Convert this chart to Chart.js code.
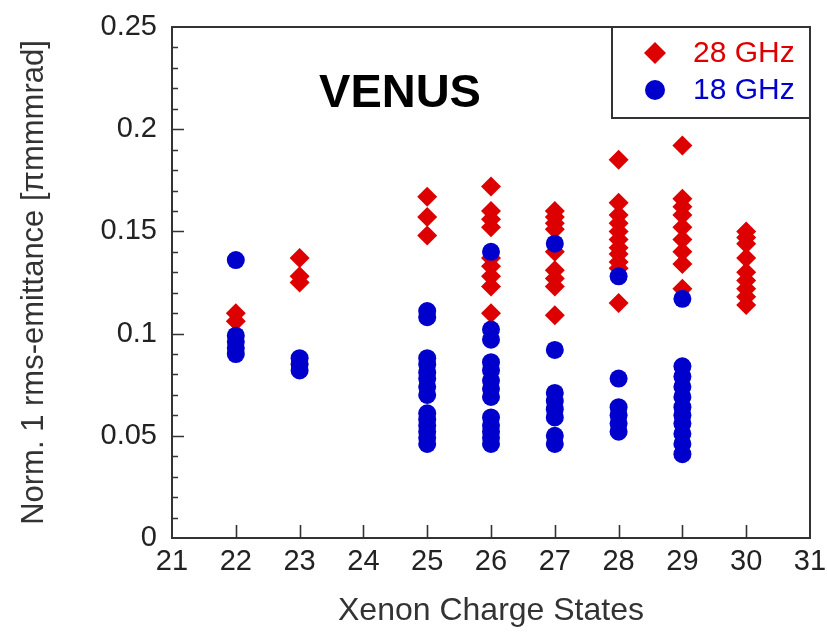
<!DOCTYPE html>
<html lang="en">
<head>
    <meta charset="UTF-8">
    <title>VENUS emittance</title>
    <style>
        html, body { margin: 0; padding: 0; background: #fff; }
        #myChart { display: block; }
    </style>
</head>
<body>

    <canvas id="myChart" width="827" height="634"></canvas>

    <script src="https://cdn.jsdelivr.net/npm/chart.js"></script>

    <script>
        // xenon charge states on the x axis
        const chargeStates = [22, 23, 25, 26, 27, 28, 29, 30]

        // 28 GHz emittance values, one list per charge state
        const ghz28Emittance = [
            [0.110, 0.106],
            [0.137, 0.128, 0.125],
            [0.167, 0.157, 0.148],
            [0.172, 0.160, 0.156, 0.152, 0.137, 0.133, 0.128, 0.123, 0.110],
            [0.160, 0.157, 0.154, 0.151, 0.140, 0.131, 0.127, 0.123, 0.109],
            [0.185, 0.164, 0.158, 0.154, 0.150, 0.146, 0.142, 0.139, 0.135, 0.132, 0.115],
            [0.192, 0.166, 0.162, 0.158, 0.152, 0.146, 0.140, 0.134, 0.122],
            [0.150, 0.147, 0.144, 0.137, 0.130, 0.126, 0.122, 0.118, 0.114]
        ]

        // 18 GHz emittance values, one list per charge state
        const ghz18Emittance = [
            [0.136, 0.099, 0.096, 0.093, 0.090],
            [0.088, 0.085, 0.082],
            [0.111, 0.108, 0.088, 0.085, 0.081, 0.078, 0.074, 0.070, 0.061, 0.058, 0.055, 0.052, 0.049, 0.046],
            [0.140, 0.102, 0.097, 0.086, 0.082, 0.077, 0.073, 0.069, 0.059, 0.055, 0.052, 0.049, 0.046],
            [0.144, 0.092, 0.071, 0.067, 0.063, 0.059, 0.050, 0.046],
            [0.128, 0.078, 0.064, 0.060, 0.056, 0.052],
            [0.117, 0.084, 0.079, 0.074, 0.069, 0.064, 0.060, 0.056, 0.051, 0.046, 0.041],
            []
        ]

        const xTicks = [21, 22, 23, 24, 25, 26, 27, 28, 29, 30, 31]
        const yTicks = [0, 0.05, 0.1, 0.15, 0.2, 0.25]
        const seriesLabels = ['28 GHz', '18 GHz']

        const RED = '#dd0000'
        const BLUE = '#0000cc'
        const AXIS = '#333333'
        const FONT = "'Liberation Sans', Arial, sans-serif"

        const toPoints = (lists) =>
            chargeStates.flatMap((q, i) => lists[i].map(v => ({ x: q, y: v })))

        // keep the plot box where the layout padding puts it
        const fixScale = (size) => (s) => {
            if (s.isHorizontal()) s.height = size
            else s.width = size
            s.paddingTop = s.paddingBottom = s.paddingLeft = s.paddingRight = 0
        }

        // frame, inward ticks, title text and legend box
        const decorations = {
            id: 'decorations',
            beforeDatasetsDraw(chart) {
                const { ctx, chartArea: a, scales: { x, y } } = chart
                ctx.save()
                ctx.strokeStyle = AXIS
                ctx.lineWidth = 2
                ctx.strokeRect(a.left, a.top, a.right - a.left, a.bottom - a.top)

                ctx.lineWidth = 1.6
                ctx.beginPath()
                for (let k = 1; k < 25; k++) {
                    const py = Math.round(y.getPixelForValue(k / 100)) + 0.5
                    const len = k % 5 === 0 ? 12 : 6
                    ctx.moveTo(a.left, py)
                    ctx.lineTo(a.left + len, py)
                }
                xTicks.slice(1, -1).forEach(v => {
                    const px = Math.round(x.getPixelForValue(v)) + 0.5
                    ctx.moveTo(px, a.bottom)
                    ctx.lineTo(px, a.bottom - 13)
                })
                ctx.stroke()

                ctx.fillStyle = '#000'
                ctx.font = 'bold 47px ' + FONT
                ctx.textAlign = 'center'
                ctx.textBaseline = 'middle'
                ctx.fillText('VENUS', 400, 94)
                ctx.restore()
            },
            afterDraw(chart) {
                const { ctx, chartArea: a } = chart
                const box = { left: 612, top: a.top, right: a.right, bottom: 118 }
                ctx.save()
                ctx.fillStyle = '#fff'
                ctx.fillRect(box.left, box.top, box.right - box.left, box.bottom - box.top)
                ctx.strokeStyle = AXIS
                ctx.lineWidth = 2
                ctx.strokeRect(box.left, box.top, box.right - box.left, box.bottom - box.top)

                // diamond
                ctx.fillStyle = RED
                ctx.beginPath()
                ctx.moveTo(655, 53 - 11)
                ctx.lineTo(655 + 11, 53)
                ctx.lineTo(655, 53 + 11)
                ctx.lineTo(655 - 11, 53)
                ctx.closePath()
                ctx.fill()
                // circle
                ctx.fillStyle = BLUE
                ctx.beginPath()
                ctx.arc(655, 90, 10, 0, Math.PI * 2)
                ctx.fill()

                ctx.font = '30px ' + FONT
                ctx.textAlign = 'left'
                ctx.textBaseline = 'middle'
                ctx.fillStyle = RED
                ctx.fillText(seriesLabels[0], 693, 54)
                ctx.fillStyle = BLUE
                ctx.fillText(seriesLabels[1], 693, 91)
                ctx.restore()
            }
        }

        var ctx = document.getElementById('myChart')
        var myChart = new Chart(ctx, {
            type: 'scatter',
            data: {
                datasets: [{
                    label: seriesLabels[1],
                    data: toPoints(ghz18Emittance),
                    pointStyle: 'circle',
                    pointRadius: 9,
                    backgroundColor: BLUE,
                    borderColor: BLUE,
                    borderWidth: 0,
                    order: 0
                }, {
                    label: seriesLabels[0],
                    data: toPoints(ghz28Emittance),
                    pointStyle: 'rectRot',
                    pointRadius: 10,
                    backgroundColor: RED,
                    borderColor: RED,
                    borderWidth: 0,
                    order: 1
                }]
            },
            options: {
                responsive: false,
                animation: false,
                events: [],
                layout: { padding: { top: 27, right: 17, left: 0, bottom: 0 } },
                plugins: {
                    legend: { display: false },
                    tooltip: { enabled: false }
                },
                scales: {
                    x: {
                        type: 'linear',
                        min: xTicks[0],
                        max: xTicks[xTicks.length - 1],
                        afterFit: fixScale(96),
                        afterBuildTicks: s => { s.ticks = xTicks.map(v => ({ value: v })) },
                        grid: { display: true, drawOnChartArea: false, drawTicks: false, color: 'transparent' },
                        border: { display: false },
                        ticks: {
                            color: '#222',
                            padding: 7,
                            maxRotation: 0,
                            autoSkip: false,
                            font: { family: FONT, size: 29 }
                        },
                        title: {
                            display: true,
                            text: 'Xenon Charge States',
                            color: '#333',
                            padding: { top: 0, bottom: 4 },
                            font: { family: FONT, size: 32 }
                        }
                    },
                    y: {
                        min: yTicks[0],
                        max: yTicks[yTicks.length - 1],
                        afterFit: fixScale(172),
                        afterBuildTicks: s => { s.ticks = yTicks.map(v => ({ value: v })) },
                        grid: { display: true, drawOnChartArea: false, drawTicks: false, color: 'transparent' },
                        border: { display: false },
                        ticks: {
                            color: '#222',
                            padding: 15,
                            autoSkip: false,
                            font: { family: FONT, size: 29 },
                            callback: v => String(+v.toFixed(2))
                        },
                        title: {
                            display: true,
                            text: 'Norm. 1 rms-emittance [πmmmrad]',
                            color: '#333',
                            padding: { top: 16, bottom: 0 },
                            font: { family: FONT, size: 31 }
                        }
                    }
                }
            },
            plugins: [decorations]
        })
    </script>

</body>
</html>
